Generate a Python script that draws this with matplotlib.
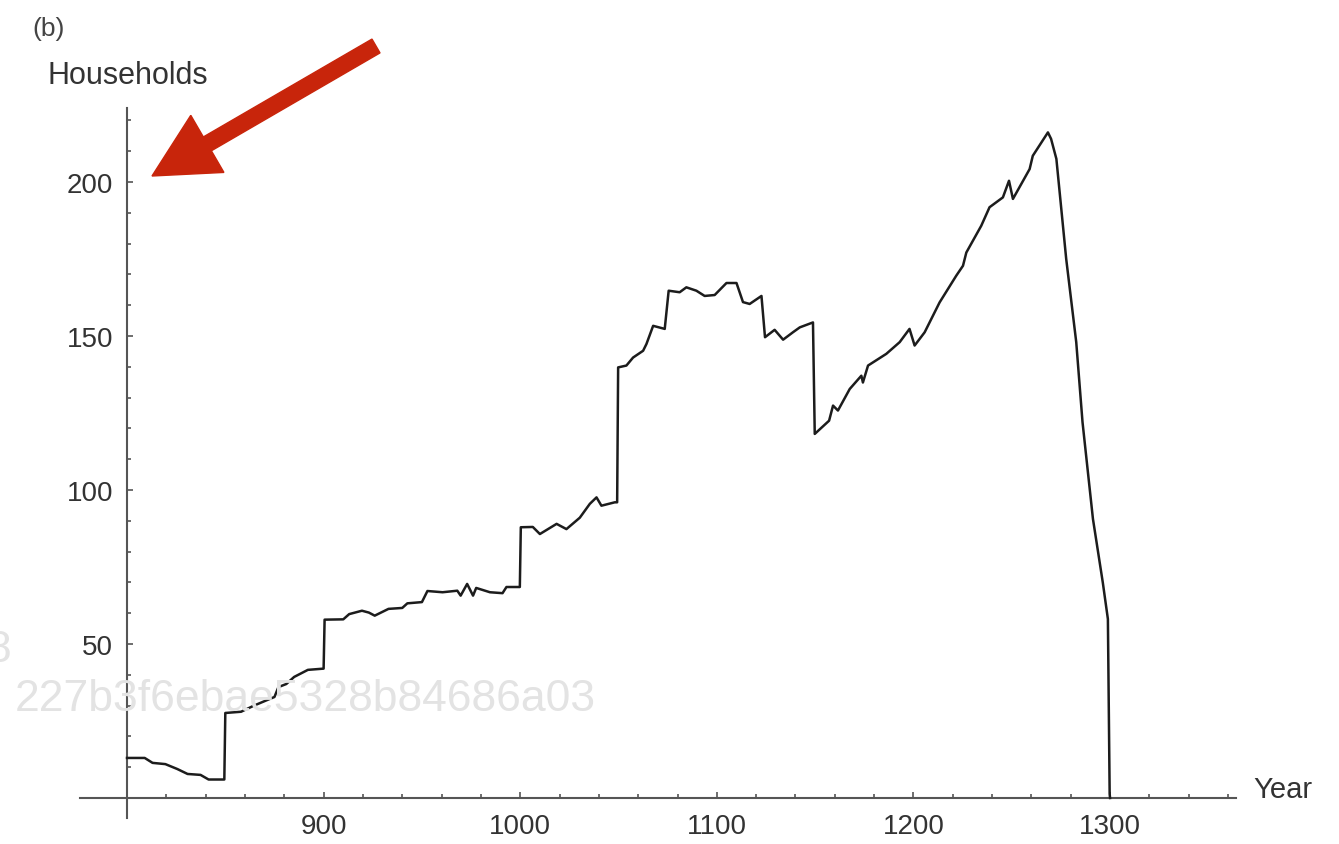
import matplotlib
matplotlib.use("Agg")
import matplotlib.pyplot as plt
from matplotlib.patches import FancyArrow
from matplotlib.transforms import IdentityTransform
from matplotlib.ticker import MultipleLocator

plt.rcParams["font.family"] = ["Liberation Sans", "DejaVu Sans"]

# households over time
years = [800, 809, 813, 819.5, 825.6, 830.8, 837.4, 841.5, 849.5, 850,
         858, 864.6, 875, 877, 881, 885, 892, 900, 900.5, 910,
         913, 919.5, 923, 926, 933, 940, 942.6, 950, 952.8, 960.5,
         968, 969.7, 973, 976, 977.6, 984.6, 991, 993, 999.8, 1000.3,
         1006.4, 1010, 1018.5, 1023.5, 1030.3, 1035.4, 1038.8, 1041.3, 1048.1, 1049.3,
         1049.8, 1054, 1057.4, 1062.5, 1064.2, 1067.6, 1073.5, 1075.5, 1081.1, 1084.5,
         1089.6, 1093.8, 1098.9, 1104.9, 1110, 1113.3, 1116.7, 1122.7, 1124.5, 1129.4,
         1133.7, 1138.7, 1142.2, 1148.9, 1149.8, 1157.1, 1159.1, 1161.6, 1167.6, 1173.5,
         1174.3, 1176.9, 1186.2, 1193, 1198, 1200.6, 1205.7, 1213.3, 1221.8, 1225.2,
         1226.9, 1234.5, 1238.7, 1245.5, 1248.6, 1250.6, 1259.1, 1260.7, 1268.4, 1270,
         1272.7, 1277.7, 1282.8, 1286, 1291.3, 1296.3, 1298.9, 1299.8, 1300]
households = [13, 13, 11.4, 11, 9.4, 7.8, 7.5, 6, 6, 27.6,
              28, 30, 32.8, 36, 37, 39.3, 41.6, 42, 57.9, 58,
              59.7, 60.8, 60.2, 59.2, 61.4, 61.7, 63.2, 63.6, 67.2, 66.8,
              67.3, 65.7, 69.5, 65.7, 68.2, 66.8, 66.5, 68.5, 68.5, 87.9,
              88, 85.7, 89, 87.3, 91, 95.5, 97.6, 94.9, 96, 96,
              139.8, 140.4, 143, 145.2, 147.4, 153.3, 152.3, 164.7, 164.2, 165.8,
              164.7, 163, 163.3, 167.2, 167.2, 161, 160.4, 163, 149.6, 152,
              148.8, 151.2, 152.8, 154.4, 118.2, 122.5, 127.4, 125.8, 132.8, 137.1,
              134.9, 140.4, 144.2, 148, 152.3, 146.9, 151.2, 160.9, 169.6, 172.8,
              177.1, 185.8, 191.8, 195, 200.4, 194.5, 204.2, 208.5, 216.1, 214,
              207.5, 175, 148, 122, 90.6, 70, 58.1, 1.3, 0]

x_major = [900, 1000, 1100, 1200, 1300]
y_major = [50, 100, 150, 200]

axis_col = "#555555"
text_col = "#333333"

fig = plt.figure(figsize=(13.39, 8.45), dpi=100)
ax = fig.add_axes([0.0508, 0.018, 0.881, 0.8748])
ax.set_xlim(770, 1370)
ax.set_ylim(-10, 230)

# faint watermark behind the plot (second line is cut by the left edge)
fig.text(15 / 1339, 1 - 700 / 845, "227b3f6ebae5328b84686a03", fontsize=32,
         color="#e3e3e3", va="center", ha="left", zorder=0)
fig.text(-14 / 1339, 1 - 650 / 845, "8", fontsize=32, color="#e3e3e3",
         va="center", ha="left", zorder=0)

ax.plot(years, households, color="#1c1c1c", lw=1.8, zorder=3)

for side in ["top", "right"]:
    ax.spines[side].set_visible(False)
ax.spines["left"].set_position(("data", 800))
ax.spines["bottom"].set_position(("data", 0))
ax.spines["left"].set_bounds(-6.5, 224)
ax.spines["bottom"].set_bounds(776, 1364)
for side in ["left", "bottom"]:
    ax.spines[side].set_color(axis_col)
    ax.spines[side].set_linewidth(1.5)
ax.patch.set_alpha(0)

ax.set_xticks(x_major)
ax.set_yticks(y_major)
# minor ticks, leaving out the axis crossing
ax.set_xticks([v for v in range(820, 1361, 20) if v % 100], minor=True)
ax.set_yticks([v for v in range(10, 221, 10) if v % 50], minor=True)
ax.tick_params(which="both", direction="in", color=axis_col, width=1.2)
ax.tick_params(which="major", length=4.5)
ax.tick_params(which="minor", length=3.2)
ax.tick_params(axis="x", which="major", pad=11, labelsize=20, labelcolor=text_col)
ax.tick_params(axis="y", which="major", pad=10, labelsize=20, labelcolor=text_col)

fig.text(32 / 1339, 1 - 29 / 845, "(b)", fontsize=19, color="#444444",
         va="center", ha="left")
fig.text(48 / 1339, 1 - 76 / 845, "Households", fontsize=22, color=text_col,
         va="center", ha="left")
fig.text(1253 / 1339, 1 - 790 / 845, "Year", fontsize=21, color=text_col,
         va="center", ha="left")

# red arrow pointing at the top of the y axis
arrow = FancyArrow(376, 845 - 47, -224, -130, width=16, head_width=66,
                   head_length=64, length_includes_head=True,
                   color="#c8250b", transform=IdentityTransform(), zorder=5)
fig.add_artist(arrow)

fig.savefig("out.png", dpi=100)
